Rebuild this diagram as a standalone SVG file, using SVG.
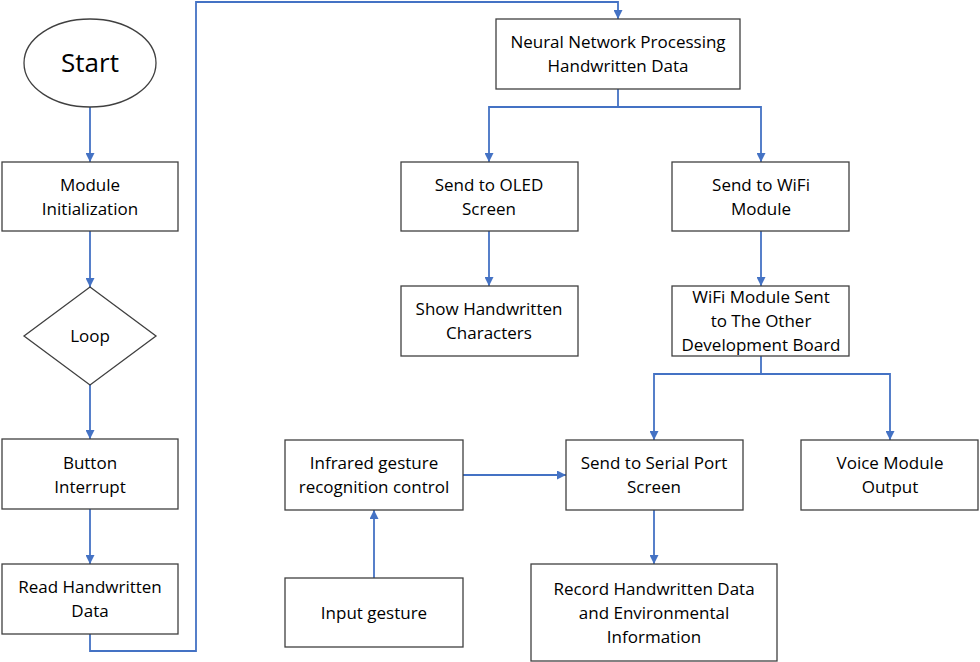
<svg xmlns="http://www.w3.org/2000/svg" width="980" height="662" viewBox="0 0 980 662">
<style>
.box{fill:#fff;stroke:#404040;stroke-width:1.3}
.t{font-family:"Open Sans","Liberation Sans",sans-serif;font-size:17px;fill:#000;text-anchor:middle}
.c{fill:none;stroke:#4472C4;stroke-width:1.8}
</style>
<defs>
<marker id="a" viewBox="0 0 10 10" refX="10" refY="5" markerWidth="9" markerHeight="9" markerUnits="userSpaceOnUse" orient="auto"><path d="M0,0L10,5L0,10z" fill="#4472C4"/></marker>
</defs>
<rect width="980" height="662" fill="#fff"/>
<g id="connectors">
<path class="c" d="M90,107V162" marker-end="url(#a)"/>
<path class="c" d="M90,231V287" marker-end="url(#a)"/>
<path class="c" d="M90,385V439" marker-end="url(#a)"/>
<path class="c" d="M90,509V564" marker-end="url(#a)"/>
<path class="c" d="M90,634V651H196V2H618V19" marker-end="url(#a)"/>
<path class="c" d="M618,89V107H489V162" marker-end="url(#a)"/>
<path class="c" d="M618,107H761V162" marker-end="url(#a)"/>
<path class="c" d="M489,231V286" marker-end="url(#a)"/>
<path class="c" d="M761,231V286" marker-end="url(#a)"/>
<path class="c" d="M761,356V374H654V440" marker-end="url(#a)"/>
<path class="c" d="M761,374H890V440" marker-end="url(#a)"/>
<path class="c" d="M463,475H566" marker-end="url(#a)"/>
<path class="c" d="M374,578V510" marker-end="url(#a)"/>
<path class="c" d="M654,510V564" marker-end="url(#a)"/>
</g>
<g id="start"><ellipse cx="90" cy="63" rx="66" ry="44" class="box"/><text class="t" x="90" y="72" style="font-size:26px">Start</text></g>
<g id="init"><rect class="box" x="2" y="162" width="176" height="69"/><text class="t" x="90" y="191">Module</text><text class="t" x="90" y="215">Initialization</text></g>
<g id="loop"><path class="box" d="M90,287L156,336L90,385L24,336Z"/><text class="t" x="90" y="342">Loop</text></g>
<g id="button"><rect class="box" x="2" y="439" width="176" height="70"/><text class="t" x="90" y="469">Button</text><text class="t" x="90" y="493">Interrupt</text></g>
<g id="read"><rect class="box" x="2" y="564" width="176" height="70"/><text class="t" x="90" y="593">Read Handwritten</text><text class="t" x="90" y="617">Data</text></g>
<g id="neural"><rect class="box" x="496" y="19" width="244" height="70"/><text class="t" x="618" y="48">Neural Network Processing</text><text class="t" x="618" y="72">Handwritten Data</text></g>
<g id="oled"><rect class="box" x="401" y="162" width="177" height="69"/><text class="t" x="489" y="191">Send to OLED</text><text class="t" x="489" y="215">Screen</text></g>
<g id="wifi"><rect class="box" x="672" y="162" width="177" height="69"/><text class="t" x="761" y="191">Send to WiFi</text><text class="t" x="761" y="215">Module</text></g>
<g id="show"><rect class="box" x="401" y="286" width="177" height="70"/><text class="t" x="489" y="315">Show Handwritten</text><text class="t" x="489" y="339">Characters</text></g>
<g id="wifisent"><rect class="box" x="672" y="286" width="177" height="70"/><text class="t" x="761" y="303">WiFi Module Sent</text><text class="t" x="761" y="327">to The Other</text><text class="t" x="761" y="351">Development Board</text></g>
<g id="infrared"><rect class="box" x="285" y="440" width="178" height="70"/><text class="t" x="374" y="469">Infrared gesture</text><text class="t" x="374" y="493">recognition control</text></g>
<g id="serial"><rect class="box" x="566" y="440" width="177" height="70"/><text class="t" x="654" y="469">Send to Serial Port</text><text class="t" x="654" y="493">Screen</text></g>
<g id="voice"><rect class="box" x="801" y="440" width="177" height="70"/><text class="t" x="890" y="469">Voice Module</text><text class="t" x="890" y="493">Output</text></g>
<g id="input"><rect class="box" x="285" y="578" width="178" height="69"/><text class="t" x="374" y="619">Input gesture</text></g>
<g id="record"><rect class="box" x="531" y="564" width="246" height="97"/><text class="t" x="654" y="595">Record Handwritten Data</text><text class="t" x="654" y="619">and Environmental</text><text class="t" x="654" y="643">Information</text></g>
</svg>
